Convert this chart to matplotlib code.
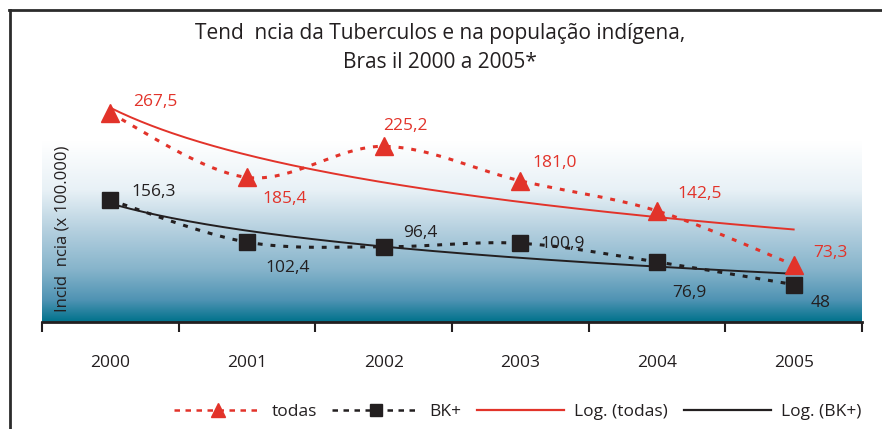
import numpy as np
import matplotlib
matplotlib.use("Agg")
import matplotlib.pyplot as plt
from matplotlib.colors import LinearSegmentedColormap
from matplotlib.lines import Line2D

plt.rcParams['font.family'] = ['Open Sans', 'DejaVu Sans']

years = ['2000', '2001', '2002', '2003', '2004', '2005']
todas = [267.5, 185.4, 225.2, 181.0, 142.5, 73.3]
bk = [156.3, 102.4, 96.4, 100.9, 76.9, 48.0]
todas_labels = ['267,5', '185,4', '225,2', '181,0', '142,5', '73,3']
bk_labels = ['156,3', '102,4', '96,4', '100,9', '76,9', '48']

RED = '#e2332a'
BLK = '#231f20'


def smooth(y, n=40):
    # Excel-style smoothed line (Catmull-Rom as cubic Bezier)
    x = np.arange(len(y), dtype=float)
    p = np.column_stack([x, np.asarray(y, float)])
    p = np.vstack([p[0], p, p[-1]])
    out = []
    t = np.linspace(0, 1, n)[:, None]
    for i in range(1, len(p) - 2):
        p0, p1, p2, p3 = p[i - 1], p[i], p[i + 1], p[i + 2]
        c1 = p1 + (p2 - p0) / 6
        c2 = p2 - (p3 - p1) / 6
        seg = ((1 - t) ** 3) * p1 + 3 * ((1 - t) ** 2) * t * c1 + 3 * (1 - t) * t ** 2 * c2 + t ** 3 * p2
        out.append(seg)
    seg = np.vstack(out)
    return seg[:, 0], seg[:, 1]


def log_trend(y):
    x = np.arange(1, len(y) + 1)
    a, b = np.polyfit(np.log(x), y, 1)
    xs = np.linspace(1, len(y), 200)
    return xs - 1, a * np.log(xs) + b


fig = plt.figure(figsize=(8.82, 4.29), dpi=100)
ax = fig.add_axes([42 / 882, 1 - 322 / 429, 820 / 882, 234 / 429])
ax.set_xlim(-0.5, 5.5)
ax.set_ylim(0, 300)

# gradient plot background
cmap = LinearSegmentedColormap.from_list('bg', [
    (0.0, '#00728c'), (0.12, '#4f93b3'), (0.29, '#86b4cb'),
    (0.51, '#b5d0df'), (0.73, '#e8f1f6'), (1.0, '#ffffff')])
grad = np.linspace(0, 1, 256).reshape(-1, 1)
ax.imshow(grad, cmap=cmap, origin='lower', aspect='auto',
          extent=(-0.5, 5.5, 0, 231), zorder=0)

x = np.arange(len(years))

# trend lines
tx, ty = log_trend(todas)
ax.plot(tx, ty, color=RED, lw=1.4, zorder=2)
bx, by = log_trend(bk)
ax.plot(bx, by, color=BLK, lw=1.4, zorder=2)

# smoothed dotted series
sx, sy = smooth(todas)
ax.plot(sx, sy, color=RED, lw=2.2, dashes=(1.6, 2.6), zorder=3)
ax.plot(x, todas, ls='none', marker='^', ms=13, color=RED, zorder=4)
sx, sy = smooth(bk)
ax.plot(sx, sy, color=BLK, lw=2.2, dashes=(1.6, 2.6), zorder=3)
ax.plot(x, bk, ls='none', marker='s', ms=11.5, color=BLK, zorder=4)

todas_off = [(16.6, 7.9), (10.8, -15.8), (-0.7, 14.4), (8.6, 13), (14.4, 12.2), (14.4, 8.6)]
bk_off = [(15.1, 5.8), (13, -18.7), (13.7, 10), (14.4, -0.7), (10.8, -22.3), (12.2, -13)]
for i in range(len(years)):
    ax.annotate(todas_labels[i], (x[i], todas[i]), xytext=todas_off[i],
                textcoords='offset points', ha='left', va='center',
                fontsize=12.5, color=RED, zorder=5)
    ax.annotate(bk_labels[i], (x[i], bk[i]), xytext=bk_off[i],
                textcoords='offset points', ha='left', va='center',
                fontsize=12.5, color=BLK, zorder=5)

# axes styling
for s in ['left', 'right', 'top']:
    ax.spines[s].set_visible(False)
ax.spines['bottom'].set_color(BLK)
ax.spines['bottom'].set_linewidth(2)
ax.set_yticks([])
ax.set_xticks(np.arange(-0.5, 6, 1))
ax.set_xticklabels([])
ax.tick_params(axis='x', which='major', length=7, width=1.5, color=BLK, direction='out')
ax.set_xticks(x, minor=True)
ax.set_xticklabels(years, minor=True, fontsize=12.5, color=BLK)
ax.tick_params(axis='x', which='minor', length=0, pad=24)

ax.text(0.0244, 0.40, 'Incid  ncia (x 100.000)', transform=ax.transAxes,
        rotation=90, ha='center', va='center', fontsize=12, color=BLK)

fig.text(0.499, 1 - 33 / 429, 'Tend  ncia da Tuberculos e na população indígena,',
         ha='center', va='center', fontsize=15, color=BLK)
fig.text(0.499, 1 - 62 / 429, 'Bras il 2000 a 2005*',
         ha='center', va='center', fontsize=15, color=BLK)

handles = [
    Line2D([], [], color=RED, lw=1.8, dashes=(2.2, 2.2), marker='^', ms=10),
    Line2D([], [], color=BLK, lw=1.8, dashes=(2.2, 2.2), marker='s', ms=9),
    Line2D([], [], color=RED, lw=1.6),
    Line2D([], [], color=BLK, lw=1.6),
]
fig.legend(handles, ['todas', 'BK+', 'Log. (todas)', 'Log. (BK+)'],
           loc='center', bbox_to_anchor=(0.587, 1 - 412 / 429), ncol=4,
           frameon=False, fontsize=12.5, handlelength=5.0, handletextpad=0.6,
           columnspacing=0.9, numpoints=1, labelcolor=BLK)

# outer frame
fig.add_artist(Line2D([9.5 / 882, 9.5 / 882], [0, 1 - 9.5 / 429], color='#2b2b2b', lw=2,
                      transform=fig.transFigure))
fig.add_artist(Line2D([8.5 / 882, 1], [1 - 9.5 / 429, 1 - 9.5 / 429], color='#2b2b2b', lw=2,
                      transform=fig.transFigure))

fig.savefig('out.png', dpi=100)
